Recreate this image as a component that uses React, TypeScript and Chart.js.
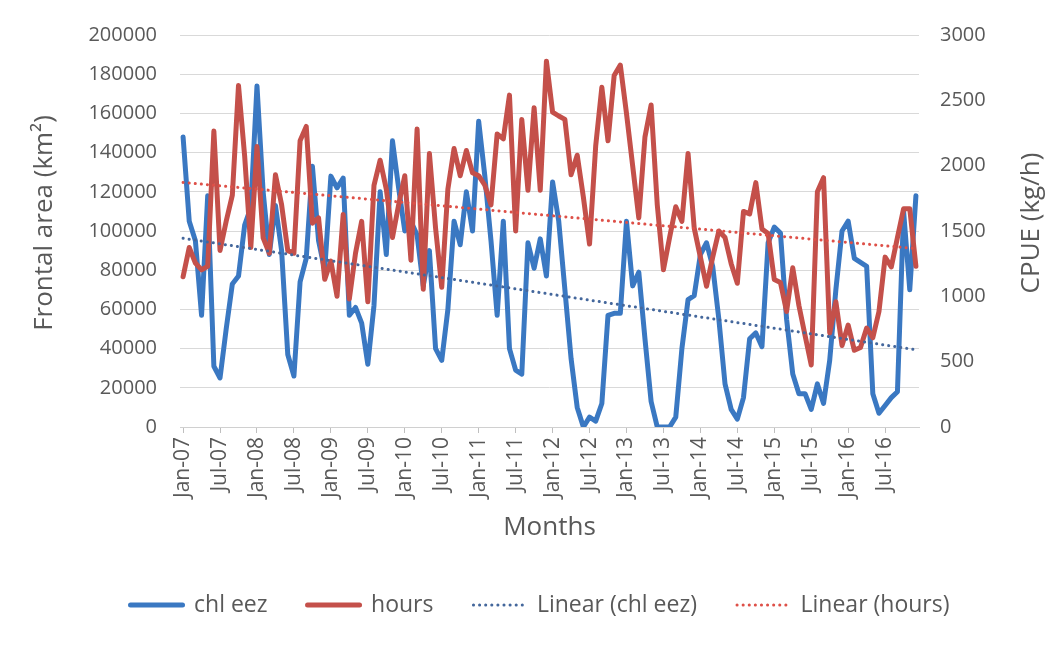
import React, { useEffect, useRef } from 'react';
import { Chart, registerables } from 'chart.js';

Chart.register(...registerables);

// Category axis: monthly Jan-07 .. Dec-16
const MONTH_NAMES = ['Jan', 'Feb', 'Mar', 'Apr', 'May', 'Jun', 'Jul', 'Aug', 'Sep', 'Oct', 'Nov', 'Dec'];
const YEARS = ['07', '08', '09', '10', '11', '12', '13', '14', '15', '16'];
const MONTHS: string[] = [];
YEARS.forEach((y) => MONTH_NAMES.forEach((m) => MONTHS.push(`${m}-${y}`)));

// Frontal area (km²), left axis
const CHL_EEZ = [
  148000, 105000, 95000, 57000, 118000, 31000, 25000, 50000, 73000, 77000, 103000, 112000,
  174000, 120000, 88000, 113000, 90000, 37000, 26000, 74000, 86000, 133000, 95000, 80000,
  128000, 122000, 127000, 57000, 61000, 53000, 32000, 62000, 120000, 88000, 146000, 122000,
  100000, 105000, 98000, 72000, 90000, 40000, 34000, 60000, 105000, 93000, 120000, 100000,
  156000, 128000, 95000, 57000, 105000, 40000, 29000, 27000, 94000, 81000, 96000, 77000,
  125000, 105000, 70000, 35000, 10000, 0, 5000, 3000, 12000, 57000, 58000, 58000,
  105000, 72000, 79000, 45000, 13000, 0, 0, 0, 5000, 40000, 65000, 67000,
  88000, 94000, 82000, 55000, 22000, 9000, 4000, 15000, 45000, 48000, 41000, 94000,
  102000, 99000, 55000, 27000, 17000, 17000, 9000, 22000, 12000, 34000, 70000, 100000,
  105000, 86000, 84000, 82000, 17000, 7000, 11000, 15000, 18000, 110000, 70000, 118000,
];

// CPUE (kg/h), right axis
const HOURS = [
  1150, 1374, 1255, 1203, 1230, 2265, 1351, 1574, 1775, 2614, 2072, 1374,
  2146, 1448, 1330, 1930, 1700, 1350, 1330, 2190, 2300, 1560, 1600, 1130,
  1270, 1000, 1626, 980, 1330, 1574, 958, 1849, 2042, 1820, 1450, 1700,
  1923, 1277, 2280, 1054, 2094, 1522, 1069, 1820, 2131, 1923, 2116, 1945,
  1923, 1850, 1700, 2243, 2205, 2540, 1500, 2354, 1812, 2443, 1812, 2800,
  2410, 2380, 2354, 1930, 2080, 1760, 1400, 2150, 2600, 2190, 2690, 2770,
  2400, 2000, 1600, 2220, 2465, 1700, 1203, 1450, 1686, 1574, 2094, 1522,
  1300, 1077, 1300, 1500, 1450, 1250, 1100, 1650, 1630, 1870, 1515, 1480,
  1129, 1106, 884, 1218, 930, 700, 475, 1800, 1908, 720, 958, 624,
  780, 587, 609, 757, 683, 884, 1300, 1225, 1450, 1671, 1671, 1230,
];

const Y_LEFT_TICKS = { min: 0, max: 200000, step: 20000 };
const Y_RIGHT_TICKS = { min: 0, max: 3000, step: 500 };

const LEFT_TITLE = 'Frontal area (km²)';
const RIGHT_TITLE = 'CPUE (kg/h)';

// Least-squares linear trend (as Excel's "Linear" trendline)
function linearTrend(values: number[]): number[] {
  const n = values.length;
  let sx = 0, sy = 0, sxx = 0, sxy = 0;
  values.forEach((v, i) => {
    const x = i + 1;
    sx += x; sy += v; sxx += x * x; sxy += x * v;
  });
  const slope = (n * sxy - sx * sy) / (n * sxx - sx * sx);
  const intercept = (sy - slope * sx) / n;
  return values.map((_, i) => intercept + slope * (i + 1));
}

const FONT = "'Open Sans', 'DejaVu Sans', sans-serif";
const TEXT = '#595959';
const BLUE = '#3A78C2';
const RED = '#C4504A';

// Both vertical axis titles read bottom-to-top (as in the original)
const axisTitlesPlugin = {
  id: 'axisTitles',
  afterDraw(chart: any) {
    const { ctx, chartArea } = chart;
    const cy = (chartArea.top + chartArea.bottom) / 2 - 8;
    const draw = (text: string, x: number) => {
      ctx.save();
      ctx.translate(x, cy);
      ctx.rotate(-Math.PI / 2);
      ctx.font = `26px ${FONT}`;
      ctx.fillStyle = TEXT;
      ctx.textAlign = 'center';
      ctx.textBaseline = 'middle';
      ctx.fillText(text, 0, 0);
      ctx.restore();
    };
    draw(LEFT_TITLE, 45);
    draw(RIGHT_TITLE, 1032);
  },
};

export default function App() {
  const ref = useRef<HTMLCanvasElement>(null);

  useEffect(() => {
    if (!ref.current) return;
    const chart = new Chart(ref.current, {
      type: 'line',
      data: {
        labels: MONTHS,
        datasets: [
          {
            label: 'chl eez',
            data: CHL_EEZ,
            yAxisID: 'y',
            borderColor: BLUE,
            backgroundColor: BLUE,
            borderWidth: 5,
            pointRadius: 0,
            borderJoinStyle: 'round',
            borderCapStyle: 'round',
            order: 3,
          },
          {
            label: 'hours',
            data: HOURS,
            yAxisID: 'y1',
            borderColor: RED,
            backgroundColor: RED,
            borderWidth: 5,
            pointRadius: 0,
            borderJoinStyle: 'round',
            borderCapStyle: 'round',
            order: 2,
          },
          {
            label: 'Linear (chl eez)',
            data: linearTrend(CHL_EEZ),
            yAxisID: 'y',
            borderColor: '#44679C',
            backgroundColor: '#44679C',
            borderWidth: 3,
            borderDash: [0.1, 6],
            borderCapStyle: 'round',
            pointRadius: 0,
            order: 1,
          },
          {
            label: 'Linear (hours)',
            data: linearTrend(HOURS),
            yAxisID: 'y1',
            borderColor: '#DE5048',
            backgroundColor: '#DE5048',
            borderWidth: 3,
            borderDash: [0.1, 6],
            borderCapStyle: 'round',
            pointRadius: 0,
            order: 0,
          },
        ],
      },
      options: {
        responsive: false,
        animation: false,
        layout: { padding: { top: 23, bottom: 18.5, left: 16, right: 0 } },
        plugins: {
          legend: {
            position: 'bottom',
            labels: {
              usePointStyle: true,
              pointStyle: 'line',
              pointStyleWidth: 52,
              padding: 40,
              color: TEXT,
              font: { family: FONT, size: 23 },
              sort: (a: any, b: any) => a.datasetIndex - b.datasetIndex,
              generateLabels: (c: any) => {
                const items = (Chart.defaults.plugins.legend.labels as any).generateLabels(c);
                return items.map((it: any) => {
                  const ds: any = c.data.datasets[it.datasetIndex];
                  return {
                    ...it,
                    pointStyle: 'line',
                    lineWidth: ds.borderWidth,
                    lineDash: ds.borderDash || [],
                    lineCap: ds.borderCapStyle || 'butt',
                    strokeStyle: ds.borderColor,
                    fillStyle: ds.borderColor,
                    fontColor: TEXT,
                  };
                });
              },
            },
          },
          tooltip: { enabled: false },
        },
        scales: {
          x: {
            type: 'category',
            offset: true,
            grid: {
              drawOnChartArea: false,
              drawTicks: true,
              tickLength: 6,
              color: (ctx: any) => (ctx.index % 6 === 0 ? '#BFBFBF' : 'rgba(0,0,0,0)'),
            },
            border: { color: '#D0D0D0' },
            ticks: {
              autoSkip: false,
              minRotation: 90,
              maxRotation: 90,
              padding: 4,
              color: TEXT,
              font: { family: FONT, size: 21 },
              callback: (_v: any, i: number) => (i % 6 === 0 ? MONTHS[i] : ''),
            },
            title: {
              display: true,
              text: 'Months',
              color: TEXT,
              font: { family: FONT, size: 26 },
              padding: { top: 0, bottom: 9.9 },
            },
            afterFit: (s: any) => { s.height = 126.5; },
          },
          y: {
            position: 'left',
            min: Y_LEFT_TICKS.min,
            max: Y_LEFT_TICKS.max,
            ticks: {
              stepSize: Y_LEFT_TICKS.step,
              padding: 23,
              color: TEXT,
              font: { family: FONT, size: 20 },
              callback: (v: any) => String(v),
            },
            grid: { color: '#D9D9D9', drawTicks: false },
            border: { display: false },
            title: { display: false },
            afterFit: (s: any) => { s.width = 164; },
          },
          y1: {
            position: 'right',
            min: Y_RIGHT_TICKS.min,
            max: Y_RIGHT_TICKS.max,
            ticks: {
              stepSize: Y_RIGHT_TICKS.step,
              padding: 21,
              color: TEXT,
              font: { family: FONT, size: 20 },
              callback: (v: any) => String(v),
            },
            grid: { drawOnChartArea: false, drawTicks: false },
            border: { display: false },
            title: { display: false },
            afterFit: (s: any) => { s.width = 145; },
          },
        },
      },
      plugins: [axisTitlesPlugin],
    } as any);
    return () => chart.destroy();
  }, []);

  return (
    <div style={{ position: 'fixed', left: 0, top: 0, width: 1064, height: 645, background: '#ffffff' }}>
      <canvas ref={ref} width={1064} height={645} style={{ display: 'block' }} />
    </div>
  );
}
